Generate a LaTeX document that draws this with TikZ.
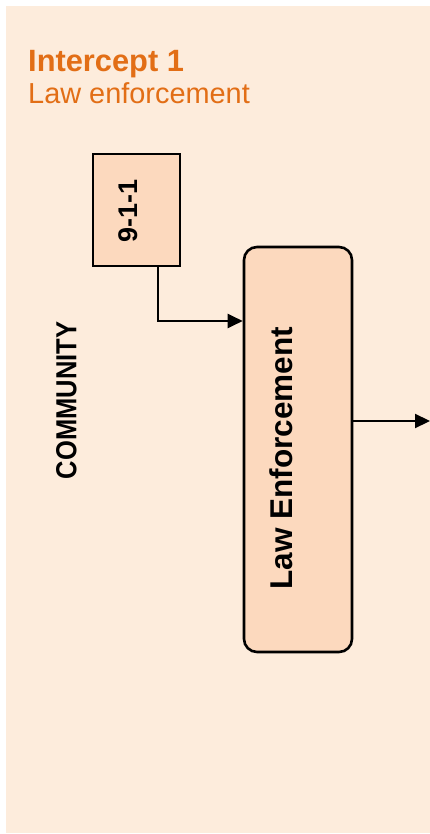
\documentclass[tikz,border=0pt]{standalone}
\usepackage{fontspec}
\setmainfont{Liberation Sans}
\usepackage{tikz}
\usetikzlibrary{positioning,arrows.meta}
\definecolor{SIMPeach}{RGB}{253,236,220}
\definecolor{SIMBox}{RGB}{252,217,190}
\definecolor{SIMOrange}{RGB}{226,110,22}
\tikzset{
    stagebox/.style={draw=black, fill=SIMBox, line width=2.6pt, inner sep=0pt},
    flow/.style={draw=black, line width=2.2pt, -{Triangle[length=15pt, width=14pt]}},
    heading/.style={anchor=base west, text=SIMOrange, inner sep=0pt}
}

\begin{document}
\begin{tikzpicture}[x=1pt, y=-1pt,
                % Style chữ dọc: xoay 90 độ, chữ đậm
                vlabel/.style={
                    rotate=90,
                    inner sep=0pt,
                    text=black
                }
            ]
                \useasboundingbox (0,0) rectangle (430,834);
                \fill[SIMPeach] (6,6) rectangle (430,833);

                % Tiêu đề
                \node[heading, font=\bfseries\fontsize{30.8}{36}\selectfont] (title) at (28,72) {Intercept 1};
                \node[heading, font=\fontsize{28.9}{34}\selectfont] (subtitle) at (28,104) {Law enforcement};

                % Các khối
                \node[stagebox, minimum width=87pt, minimum height=112pt] (call) at (136.5,210) {};
                \node[stagebox, rounded corners=13pt, minimum width=108pt, minimum height=405pt] (police) at (298,449.5) {};

                \node[vlabel, font=\bfseries\fontsize{27}{32}\selectfont] (calltext) at (128.5,210.5) {9-1-1};
                \node[vlabel, font=\bfseries\fontsize{31.5}{36}\selectfont] (policetext) at (281,458) {Law Enforcement};
                \node[vlabel, font=\bfseries\fontsize{29}{34}\selectfont] (community) at (66.5,400.5) {\scalebox{0.88}[1]{COMMUNITY}};

                % Mũi tên
                \coordinate (drop) at (158,321);
                \coordinate (exit) at (430,421);
                \draw[flow] (call.south -| drop) |- (police.west |- drop);
                \draw[flow] (police.east |- exit) -- (exit);
            \end{tikzpicture}
\end{document}
